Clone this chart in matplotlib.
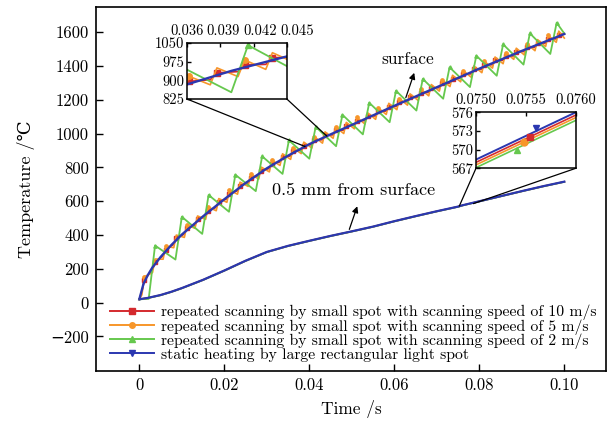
import matplotlib.pyplot as plt
from matplotlib.lines import Line2D
from matplotlib.patches import ConnectionPatch
from matplotlib.transforms import ScaledTranslation

plt.rcParams['font.family'] = ['cmr10', 'DejaVu Serif']
plt.rcParams['mathtext.fontset'] = 'cm'
plt.rcParams['axes.formatter.use_mathtext'] = True

# surface temperature, static heating by large rectangular spot
surf_t = [0, 0.001, 0.002, 0.003, 0.005, 0.0075, 0.01, 0.015, 0.02, 0.025, 0.03,
          0.035, 0.04, 0.045, 0.05, 0.06, 0.07, 0.08, 0.09, 0.1]
surf_blue = [20, 113, 163, 205, 270, 340, 403, 511, 612, 708, 795,
             870, 938, 996, 1052, 1165, 1275, 1385, 1490, 1590]

# surface temperature, scanning at 2 m/s (peaks and troughs)
green_t = [0, 0.0022, 0.0037, 0.0085, 0.0100, 0.0148, 0.0163, 0.0211, 0.0226, 0.0274,
           0.0289, 0.0337, 0.0352, 0.0400, 0.0415, 0.0463, 0.0478, 0.0526, 0.0541, 0.0589,
           0.0604, 0.0652, 0.0667, 0.0715, 0.0730, 0.0778, 0.0793, 0.0841, 0.0856, 0.0904,
           0.0919, 0.0967, 0.0982, 0.1000]
green_T = [20, 22, 338, 255, 508, 407, 637, 538, 757, 660,
           866, 762, 961, 852, 1041, 926, 1112, 996, 1183, 1068,
           1254, 1137, 1324, 1207, 1393, 1276, 1462, 1343, 1529, 1409,
           1594, 1472, 1657, 1593]

# surface temperature, scanning at 5 m/s and 10 m/s
scan_t = [0, 0.0006, 0.0012, 0.0031, 0.0037, 0.0056, 0.0062, 0.0081, 0.0087, 0.0106, 0.0112,
          0.0131, 0.0137, 0.0156, 0.0162, 0.0181, 0.0187, 0.0206, 0.0212, 0.0231, 0.0237,
          0.0256, 0.0262, 0.0281, 0.0287, 0.0306, 0.0312, 0.0331, 0.0337, 0.0356, 0.0362,
          0.0381, 0.0387, 0.0406, 0.0412, 0.0431, 0.0437, 0.0456, 0.0462, 0.0481, 0.0487,
          0.0506, 0.0512, 0.0531, 0.0537, 0.0556, 0.0562, 0.0581, 0.0587, 0.0606, 0.0612,
          0.0631, 0.0637, 0.0656, 0.0662, 0.0681, 0.0687, 0.0706, 0.0712, 0.0731, 0.0737,
          0.0756, 0.0762, 0.0781, 0.0787, 0.0806, 0.0812, 0.0831, 0.0837, 0.0856, 0.0862,
          0.0881, 0.0887, 0.0906, 0.0912, 0.0931, 0.0937, 0.0956, 0.0962, 0.0981, 0.0987, 0.1]
orange_T = [20, 46, 153, 178, 258, 257, 334, 325, 400, 386, 459,
            440, 513, 493, 565, 544, 616, 594, 665, 642, 713,
            688, 759, 732, 802, 774, 843, 812, 881, 848, 916,
            882, 950, 915, 982, 944, 1011, 973, 1039, 1001, 1067,
            1029, 1096, 1057, 1124, 1085, 1152, 1114, 1180, 1142, 1208,
            1169, 1236, 1197, 1263, 1224, 1291, 1252, 1318, 1279, 1346,
            1307, 1373, 1334, 1401, 1361, 1428, 1388, 1454, 1414, 1480,
            1440, 1506, 1466, 1532, 1491, 1557, 1516, 1582, 1541, 1607, 1566]
red_T = [20, 66, 133, 198, 238, 277, 314, 345, 380, 406, 439,
         460, 493, 513, 545, 564, 596, 614, 645, 662, 693,
         708, 739, 752, 782, 794, 823, 832, 861, 868, 896,
         902, 930, 935, 962, 964, 991, 993, 1019, 1021, 1047,
         1049, 1076, 1077, 1104, 1105, 1132, 1134, 1160, 1162, 1188,
         1189, 1216, 1217, 1243, 1244, 1271, 1272, 1298, 1299, 1326,
         1327, 1353, 1354, 1381, 1381, 1408, 1408, 1434, 1434, 1460,
         1460, 1486, 1486, 1512, 1511, 1537, 1536, 1562, 1561, 1587, 1590]

# 0.5 mm below the surface (static heating); scanning cases sit slightly lower
depth_t = [0, 0.002, 0.005, 0.0075, 0.01, 0.015, 0.02, 0.025, 0.03, 0.035, 0.04, 0.045,
           0.05, 0.055, 0.06, 0.065, 0.07, 0.075, 0.076, 0.08, 0.085, 0.09, 0.095, 0.1]
depth_blue = [20, 28, 45, 64, 86, 135, 190, 248, 300, 336, 366, 395,
              422, 450, 482, 512, 541, 568.4, 576, 600, 630, 660, 689, 716]
depth_shift = {'red': -0.45, 'orange': -0.85, 'green': -1.3}
depth_mark_t = {'red': 0.07554, 'orange': 0.07548, 'green': 0.07541, 'blue': 0.0756}
depth_mark_T = {'red': 572.0, 'orange': 571.2, 'green': 570.0, 'blue': 573.4}

labels = ['repeated scanning by small spot with scanning speed of 10 m/s',
          'repeated scanning by small spot with scanning speed of 5 m/s',
          'repeated scanning by small spot with scanning speed of 2 m/s',
          'static heating by large rectangular light spot']
colors = {'red': '#d42a2e', 'orange': '#f7962a', 'green': '#66c84e', 'blue': '#2b37b0'}
markers = {'red': 's', 'orange': 'o', 'green': '^', 'blue': 'v'}

xticks = [0, 0.02, 0.04, 0.06, 0.08, 0.10]
xticklabels = ['0', '0.02', '0.04', '0.06', '0.08', '0.10']
yticks = [-200, 0, 200, 400, 600, 800, 1000, 1200, 1400, 1600]
yticklabels = ['\u2212200', '0', '200', '400', '600', '800', '1000', '1200', '1400', '1600']

fig = plt.figure(figsize=(6.09, 4.26), dpi=100)
ax = fig.add_axes([0.1576, 0.129, 0.8374, 0.8546])


def draw_series(a, ms):
    a.plot(scan_t, red_T, color=colors['red'], lw=1.2, marker='s', ms=ms,
           markevery=(2, 2))
    a.plot(scan_t, orange_T, color=colors['orange'], lw=1.2, marker='o', ms=ms,
           markevery=(2, 4))
    a.plot(green_t, green_T, color=colors['green'], lw=1.3, marker='^', ms=ms,
           markevery=(2, 2))
    a.plot(surf_t, surf_blue, color=colors['blue'], lw=1.7)
    for key in ['red', 'orange', 'green']:
        a.plot(depth_t, [v + depth_shift[key] for v in depth_blue],
               color=colors[key], lw=1.2)
    a.plot(depth_t, depth_blue, color=colors['blue'], lw=1.6)


draw_series(ax, 2.4)
ax.set_xlim(-0.0102, 0.1098)
ax.set_ylim(-405, 1750)
ax.set_xticks(xticks)
ax.set_xticklabels(xticklabels)
ax.set_yticks(yticks)
ax.set_yticklabels(yticklabels)
ax.tick_params(direction='in', length=5, width=1, labelsize=12, pad=5)
for s in ax.spines.values():
    s.set_linewidth(1.2)
ax.set_xlabel('Time /s', fontsize=12.5, labelpad=5)
ax.set_ylabel('Temperature /\u2103', fontsize=13, labelpad=11)

handles = [Line2D([], [], color=colors[k], marker=markers[k], ms=4, lw=1.4)
           for k in ['red', 'orange', 'green', 'blue']]
ax.legend(handles, labels, loc='upper left', bbox_to_anchor=(0.027, 0.182),
          frameon=False, fontsize=11.3, handlelength=2.8, handletextpad=0.45,
          labelspacing=-0.08, borderpad=0, borderaxespad=0)

ax.annotate('', xy=(0.0649, 1376), xytext=(0.0625, 1198),
            arrowprops=dict(arrowstyle='-|>', color='k', lw=0.9, mutation_scale=9))
ax.text(0.0632, 1441, 'surface', fontsize=12.5, ha='center', va='center')
ax.annotate('', xy=(0.0515, 586), xytext=(0.0492, 418),
            arrowprops=dict(arrowstyle='-|>', color='k', lw=0.9, mutation_scale=9))
ax.text(0.0505, 665, '0.5 mm from surface', fontsize=13, ha='center', va='center')

# zoomed views
ax1 = fig.add_axes([0.307, 0.7676, 0.164, 0.1315])
draw_series(ax1, 4)
ax1.set_xlim(0.036, 0.045)
ax1.set_ylim(825, 1050)
ax1.set_xticks([0.036, 0.039, 0.042, 0.045])
ax1.set_xticklabels(['0.036', '0.039', '0.042', '0.045'])
ax1.set_yticks([825, 900, 975, 1050])
ax1.set_yticklabels(['825', '900', '975', '1050'])

ax2 = fig.add_axes([0.7816, 0.605, 0.164, 0.1315])
for key in ['green', 'orange', 'red']:
    ax2.plot(depth_t, [v + depth_shift[key] for v in depth_blue], color=colors[key], lw=1.2)
ax2.plot(depth_t, depth_blue, color=colors['blue'], lw=1.4)
for key in ['green', 'orange', 'red', 'blue']:
    ax2.plot([depth_mark_t[key]], [depth_mark_T[key]], color=colors[key],
             marker=markers[key], ms=5, ls='none')
ax2.set_xlim(0.0750, 0.0760)
ax2.set_ylim(567, 576)
ax2.set_xticks([0.0750, 0.0755, 0.0760])
ax2.set_xticklabels(['0.0750', '0.0755', '0.0760'])
ax2.set_yticks([567, 570, 573, 576])
ax2.set_yticklabels(['567', '570', '573', '576'])

for a in (ax1, ax2):
    a.xaxis.tick_top()
    a.tick_params(direction='in', length=3, width=1, labelsize=10.5, pad=2)
    a.tick_params(axis='x', pad=3.5)
    for s in a.spines.values():
        s.set_linewidth(1.1)

# spread the crowded top labels of the first zoom a little to the right
for i, lab in enumerate(ax1.get_xticklabels()):
    lab.set_transform(lab.get_transform() +
                      ScaledTranslation(i * 3.3 / 100, 0, fig.dpi_scale_trans))

# guide lines from the zoomed views to the curves
for xa, xy in [((0, 0), (0.0390, 924)), ((1, 0), (0.0441, 986))]:
    fig.add_artist(ConnectionPatch(xyA=xa, coordsA=ax1.transAxes, xyB=xy,
                                   coordsB=ax.transData, color='k', lw=0.9))
for xa, xy in [((0, 0), (0.0753, 572)), ((1, 0), (0.0786, 586))]:
    fig.add_artist(ConnectionPatch(xyA=xa, coordsA=ax2.transAxes, xyB=xy,
                                   coordsB=ax.transData, color='k', lw=0.9))

fig.savefig('out.png', dpi=100)
